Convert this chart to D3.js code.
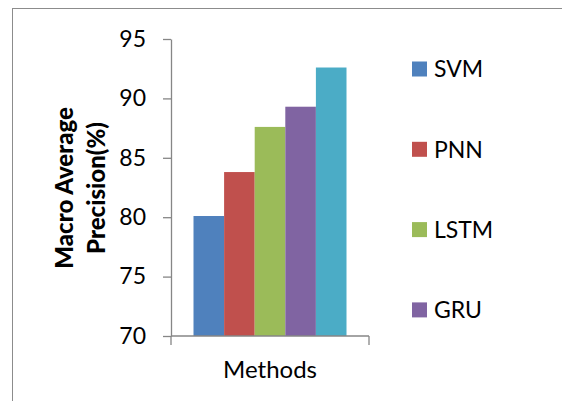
<!DOCTYPE html>
<html>
<head>
<meta charset="utf-8">
<script src="https://cdn.jsdelivr.net/npm/d3@7"></script>
<style>
  html, body { margin: 0; padding: 0; background: #fff; }
  svg { display: block; }
  text { font-family: Lato, "Open Sans", sans-serif; fill: #000; }
</style>
</head>
<body>
<script>
// Macro average precision per method, single category group
const categories = ["Methods"];
const methods = ["SVM", "PNN", "LSTM", "GRU", "Proposed"];
const values = [80.1, 83.8, 87.6, 89.3, 92.6];
const colors = ["#4F81BD", "#C0504D", "#9BBB59", "#8064A2", "#4BACC6"];
const yTicks = [70, 75, 80, 85, 90, 95];
// rows that fit inside the legend box
const legendRows = 4;

const W = 562, H = 401;
const svg = d3.select("body").append("svg").attr("width", W).attr("height", H);

// outer chart frame (continues past the right and bottom edges)
svg.append("rect")
  .attr("x", 12.5).attr("y", 8.5)
  .attr("width", W + 20).attr("height", H + 20)
  .attr("fill", "#fff").attr("stroke", "#8c8c8c").attr("stroke-width", 1);

const plot = { left: 171, right: 369, top: 39, bottom: 336 };

const y = d3.scaleLinear().domain([70, 95]).range([plot.bottom, plot.top]);
const x0 = d3.scaleBand().domain(categories).range([plot.left, plot.right]);
// the bar group sits in the middle of the category with equal gaps each side
const groupGap = 22.5;
const x1 = d3.scaleBand().domain(methods)
  .range([groupGap, x0.bandwidth() - groupGap]).padding(0);

// bars
const g = svg.append("g");
categories.forEach(cat => {
  g.selectAll(null)
    .data(methods.map((m, i) => ({ m, v: values[i], c: colors[i] })))
    .join("rect")
    .attr("x", d => x0(cat) + x1(d.m))
    .attr("y", d => y(d.v))
    .attr("width", x1.bandwidth())
    .attr("height", d => y(70) - y(d.v))
    .attr("fill", d => d.c);
});

// y axis
const yAxis = svg.append("g")
  .attr("transform", `translate(${plot.left},0)`)
  .call(d3.axisLeft(y).tickValues(yTicks).tickSize(8).tickPadding(17).tickSizeOuter(0));
yAxis.select(".domain").attr("stroke", "#868686").attr("stroke-width", 1.3);
yAxis.selectAll(".tick line").attr("stroke", "#868686").attr("stroke-width", 1.3);
yAxis.selectAll(".tick text").style("font-size", "23px").style("font-family", "Lato, 'Open Sans', sans-serif").attr("fill", "#000");

// x axis with boundary ticks at each end
const xAxisG = svg.append("g").attr("transform", `translate(0,${plot.bottom})`);
xAxisG.append("line")
  .attr("x1", plot.left).attr("x2", plot.right)
  .attr("stroke", "#868686").attr("stroke-width", 1.3);
xAxisG.selectAll(null)
  .data(x0.range())
  .join("line")
  .attr("x1", d => d).attr("x2", d => d)
  .attr("y1", 0).attr("y2", 9)
  .attr("stroke", "#868686").attr("stroke-width", 1.3);
xAxisG.selectAll(null)
  .data(categories)
  .join("text")
  .attr("x", d => x0(d) + x0.bandwidth() / 2)
  .attr("y", 42)
  .attr("text-anchor", "middle")
  .style("font-size", "24px")
  .text(d => d);

// y axis title, two lines, rotated
const yTitle = svg.append("text")
  .attr("transform", "translate(0,188) rotate(-90)")
  .attr("text-anchor", "middle")
  .style("font-size", "24px")
  .style("font-weight", "900");
yTitle.append("tspan").attr("x", 0).attr("y", 73).text("Macro Average");
yTitle.append("tspan").attr("x", 0).attr("y", 105).text("Precision(%)");

// legend
const item = svg.append("g").selectAll("g")
  .data(methods.slice(0, legendRows).map((m, i) => ({ m, c: colors[i] })))
  .join("g")
  .attr("transform", (d, i) => `translate(412,${69 + i * 80.3})`);
item.append("rect").attr("x", 0).attr("y", -7.5).attr("width", 15).attr("height", 15).attr("fill", d => d.c);
item.append("text").attr("x", 22).attr("y", 0).attr("dy", "0.36em")
  .style("font-size", "23px").text(d => d.m);
</script>
</body>
</html>
